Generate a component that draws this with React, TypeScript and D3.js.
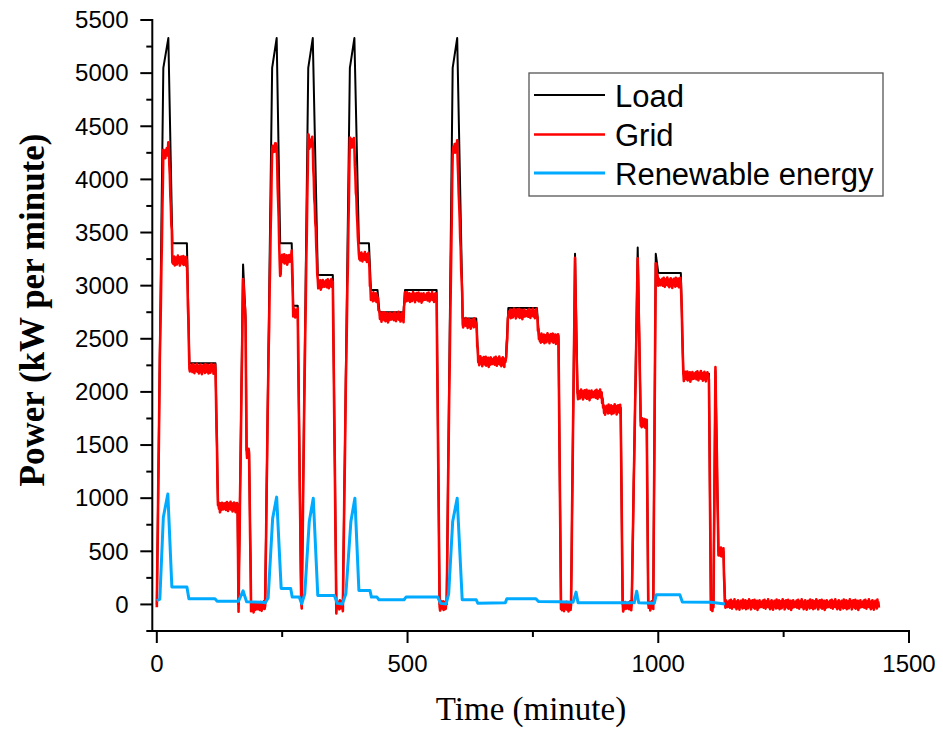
import React from 'react';
import * as d3 from 'd3';

// Load (kW) breakpoints: [minute, value]
const loadPoints: [number, number][] = [
  [0, 0], [13, 5050], [23, 5330], [31, 3400], [60, 3400], [65, 2270], [117, 2270], [122, 950],
  [161, 950], [163, 0], [172, 3200], [177, 2700], [179, 1450], [184, 1450], [188, 0], [216, 0],
  [230, 5050], [239, 5330], [246, 3400], [269, 3400], [272, 2810], [281, 2810], [288, 0], [289, 0],
  [302, 5050], [311, 5330], [321, 3100], [351, 3100], [358, 0], [371, 0], [385, 5050], [394, 5330],
  [403, 3400], [423, 3400], [427, 2960], [440, 2960], [444, 2750], [492, 2750], [495, 2960], [558, 2960],
  [564, 0], [578, 0], [590, 5050], [599, 5330], [610, 2690], [637, 2690], [641, 2300], [696, 2300],
  [701, 2790], [758, 2790], [762, 2530], [801, 2530], [806, 0], [826, 0], [834, 3300], [839, 1990],
  [887, 1990], [891, 1850], [925, 1850], [929, 0], [947, 0], [959, 3360], [965, 1720], [977, 1720],
  [980, 0], [990, 0], [995, 3300], [1000, 3120], [1045, 3120], [1050, 2170], [1101, 2170], [1105, 0],
  [1110, 0], [1114, 2200], [1120, 500], [1130, 500], [1133, 0], [1440, 0],
];

// Renewable energy (kW) breakpoints: [minute, value]
const renewablePoints: [number, number][] = [
  [0, 35], [6, 50], [13, 820], [22, 1040], [30, 165], [60, 165], [64, 53], [116, 53], [120, 31],
  [163, 31], [172, 128], [179, 25], [210, 20], [216, 15], [222, 60], [231, 810], [239, 1010],
  [248, 150], [267, 150], [270, 70], [284, 70], [289, 5], [295, 100], [304, 780], [312, 1000],
  [321, 85], [354, 85], [360, 10], [370, 5], [377, 100], [387, 780], [395, 1000], [403, 132],
  [425, 132], [428, 69], [439, 69], [443, 44], [493, 44], [497, 69], [560, 69], [566, 10], [577, 5],
  [582, 100], [590, 780], [599, 1000], [609, 44], [637, 44], [640, 12], [695, 15], [698, 53],
  [756, 53], [761, 28], [803, 25], [830, 20], [836, 116], [840, 15], [952, 15], [957, 125], [961, 15],
  [992, 10], [996, 91], [1043, 91], [1048, 22], [1105, 20], [1133, 5],
];

// Minute-to-minute fluctuation of the grid power around (load - renewable), kW
const gridJitter = [
  8, 26, -18, 36, -30, 12, 44, -8, -40, 18, -22, 32, -12, 48, -26, 0, 22, -44, 30, -15, 40, -32,
  15, -50, 26, -4, 35, -24, 9, -38, 46, -18, 20, -30, 4, 38, -44, 24, -9, 30, -36, 12, 48, -20,
  -6, 32, -46, 18, -26, 40, -12, 6, -32, 44, -40, 15, 26, -18, 35, -52, 9, 20, -30, 38, -15, 0, -24,
];

const yTicks = [0, 500, 1000, 1500, 2000, 2500, 3000, 3500, 4000, 4500, 5000, 5500];
const yMinorTicks = [-250, 250, 750, 1250, 1750, 2250, 2750, 3250, 3750, 4250, 4750, 5250];
const xTicks = [0, 500, 1000, 1500];
const xMinorTicks = [250, 750, 1250];
const seriesNames = ['Load', 'Grid', 'Renewable energy'];
const seriesColors = ['#000000', '#FF0000', '#00AAFF'];
const seriesWidths = [2, 2.6, 3];

export default function App() {
  const x = d3.scaleLinear().domain([-9, 1500]).range([152.3, 909]);
  const y = d3.scaleLinear().domain([-250, 5500]).range([631, 20]);

  const loadAt = d3.scaleLinear().domain(loadPoints.map(p => p[0])).range(loadPoints.map(p => p[1])).clamp(true);
  const renewAt = d3.scaleLinear().domain(renewablePoints.map(p => p[0])).range(renewablePoints.map(p => p[1])).clamp(true);
  const lastRenewT = renewablePoints[renewablePoints.length - 1][0];
  const gridPoints: [number, number][] = d3.range(0, 1441).map(t => [
    t,
    loadAt(t) - (t <= lastRenewT ? renewAt(t) : 0) + gridJitter[t % gridJitter.length],
  ]);

  const line = d3.line<[number, number]>().x(d => x(d[0])).y(d => y(d[1]));

  const axisX = x(-9);
  const axisY = y(-250);
  const sans = '"Liberation Sans", Arial, Helvetica, sans-serif';
  const serif = '"Liberation Serif", "Times New Roman", serif';

  const legendX = 529;
  const legendY = 73;
  const rowYs = [95, 134.5, 173];

  return (
    <svg width={943} height={732} style={{ position: 'absolute', left: 0, top: 0, background: '#fff' }}>
      <rect x={0} y={0} width={943} height={732} fill="#fff" />
      {/* series */}
      <path d={line(loadPoints) || ''} fill="none" stroke={seriesColors[0]} strokeWidth={seriesWidths[0]} strokeLinejoin="round" />
      <path d={line(gridPoints) || ''} fill="none" stroke={seriesColors[1]} strokeWidth={seriesWidths[1]} strokeLinejoin="round" />
      <path d={line(renewablePoints) || ''} fill="none" stroke={seriesColors[2]} strokeWidth={seriesWidths[2]} strokeLinejoin="round" />

      {/* y axis */}
      <line x1={axisX} x2={axisX} y1={axisY + 1} y2={y(5500) - 1} stroke="#000" strokeWidth={2} />
      {yTicks.map(v => (
        <g key={'yt' + v}>
          <line x1={axisX - 12} x2={axisX} y1={y(v)} y2={y(v)} stroke="#000" strokeWidth={2} />
          <text x={128.5} y={y(v) + 8.3} textAnchor="end" fontFamily={sans} fontSize={24} fill="#000">{v}</text>
        </g>
      ))}
      {yMinorTicks.map(v => (
        <line key={'ym' + v} x1={axisX - 6} x2={axisX} y1={y(v)} y2={y(v)} stroke="#000" strokeWidth={2} />
      ))}

      {/* x axis */}
      <line x1={axisX - 1} x2={x(1500) + 1} y1={axisY} y2={axisY} stroke="#000" strokeWidth={2} />
      {xTicks.map(v => (
        <g key={'xt' + v}>
          <line x1={x(v)} x2={x(v)} y1={axisY} y2={axisY + 12} stroke="#000" strokeWidth={2} />
          <text x={x(v)} y={672} textAnchor="middle" fontFamily={sans} fontSize={24} fill="#000">{v}</text>
        </g>
      ))}
      {xMinorTicks.map(v => (
        <line key={'xm' + v} x1={x(v)} x2={x(v)} y1={axisY} y2={axisY + 6} stroke="#000" strokeWidth={2} />
      ))}

      {/* axis titles */}
      <text x={531} y={720} textAnchor="middle" fontFamily={serif} fontSize={33} fill="#000">Time (minute)</text>
      <text transform="translate(44,310) rotate(-90)" textAnchor="middle" fontFamily={serif} fontWeight="bold" fontSize={35} fill="#000">Power (kW per minute)</text>

      {/* legend */}
      <rect x={legendX} y={legendY} width={354} height={123} fill="#fff" stroke="#555" strokeWidth={1.3} />
      {seriesNames.map((name, i) => (
        <g key={name}>
          <line x1={534} x2={605} y1={rowYs[i]} y2={rowYs[i]} stroke={seriesColors[i]} strokeWidth={seriesWidths[i]} />
          <text x={615} y={rowYs[i] + 11.5} fontFamily={sans} fontSize={31} fill="#000">{name}</text>
        </g>
      ))}
    </svg>
  );
}
